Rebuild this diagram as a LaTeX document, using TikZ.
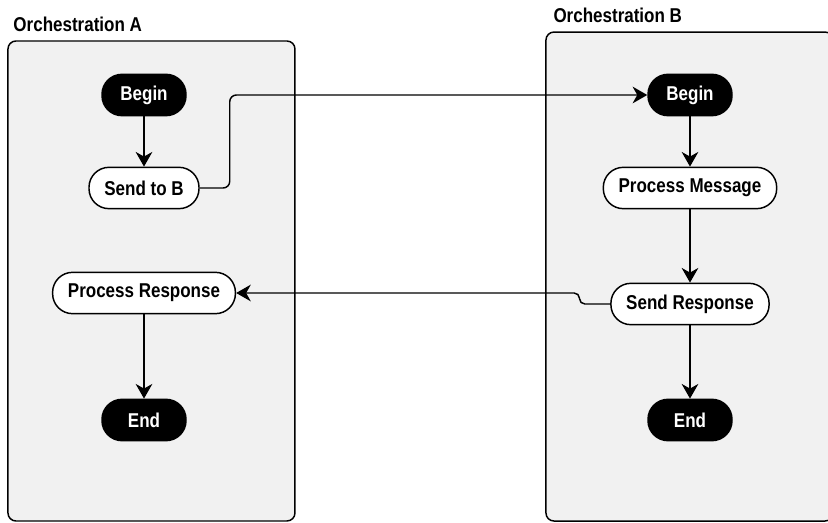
\documentclass[tikz,border=0pt]{standalone}
\usepackage{fontspec}
\setmainfont{Liberation Sans}[FakeStretch=0.85]
\usepackage{tikz}
\usetikzlibrary{arrows.meta, positioning}
\definecolor{lanegray}{HTML}{F1F1F1}

\begin{document}
\begin{tikzpicture}[node distance=69.75pt,font=\fontsize{15pt}{18pt}\selectfont\bfseries]
 \useasboundingbox (0,0) rectangle (621pt,-392.25pt);
 \tikzstyle{lane}=[rectangle,rounded corners=6pt,draw=black,line width=1.1pt,
   fill=lanegray,minimum width=215.25pt,inner sep=0pt]
 \tikzstyle{termbox}=[rectangle,rounded corners=15pt,draw=black,line width=1.1pt,
   fill=black,text=white,minimum width=63pt,minimum height=31pt,text centered]
 \tikzstyle{stepbox}=[rectangle,rounded corners=15pt,draw=black,line width=1.1pt,
   fill=white,minimum height=31pt,inner xsep=11.5pt,text centered]
 \tikzstyle{flow}=[-{Stealth[length=11pt,width=12.5pt,inset=3.5pt]},line width=1.1pt]
 % the two orchestrations
 \node (orchA) [lane,minimum height=360pt] at (113.6pt,-210.75pt) {};
 \node (orchB) [lane,minimum height=366.75pt] at (517.1pt,-207.4pt) {};
 \node (titleA) [above right=6pt and 4.5pt of orchA.north west,inner sep=0pt]
   {Orchestration A};
 \node (titleB) [above right=6pt and 6pt of orchB.north west,inner sep=0pt]
   {Orchestration B};
 % orchestration A
 \node (beginA) [termbox] at (108pt,-71.25pt) {Begin};
 \node (sendB) [stepbox,below of=beginA] {Send to B};
 \node (procResp) [stepbox,below of=sendB,yshift=-9pt] {Process Response};
 \node (endA) [termbox,below of=procResp,yshift=-25.5pt] {End};
 % orchestration B
 \node (beginB) [termbox,right of=beginA,xshift=339.75pt] {Begin};
 \node (procMsg) [stepbox,below of=beginB] {Process Message};
 \node (sendResp) [stepbox,below of=procMsg,yshift=-17.25pt] {Send Response};
 \node (endB) [termbox,below of=sendResp,yshift=-17.25pt] {End};
 \draw[flow] (beginA) -- (sendB);
 \draw[flow] (procResp) -- (endA);
 \draw[flow] (beginB) -- (procMsg);
 \draw[flow] (procMsg) -- (sendResp);
 \draw[flow] (sendResp) -- (endB);
 % messages between the two
 \draw[flow,rounded corners=5pt] (sendB.east) -- ++(22.5pt,0) |- (beginB.west);
 \draw[flow,rounded corners=4pt] (sendResp.west) -- ++(-23pt,0) |- (procResp.east);
\end{tikzpicture}
\end{document}
